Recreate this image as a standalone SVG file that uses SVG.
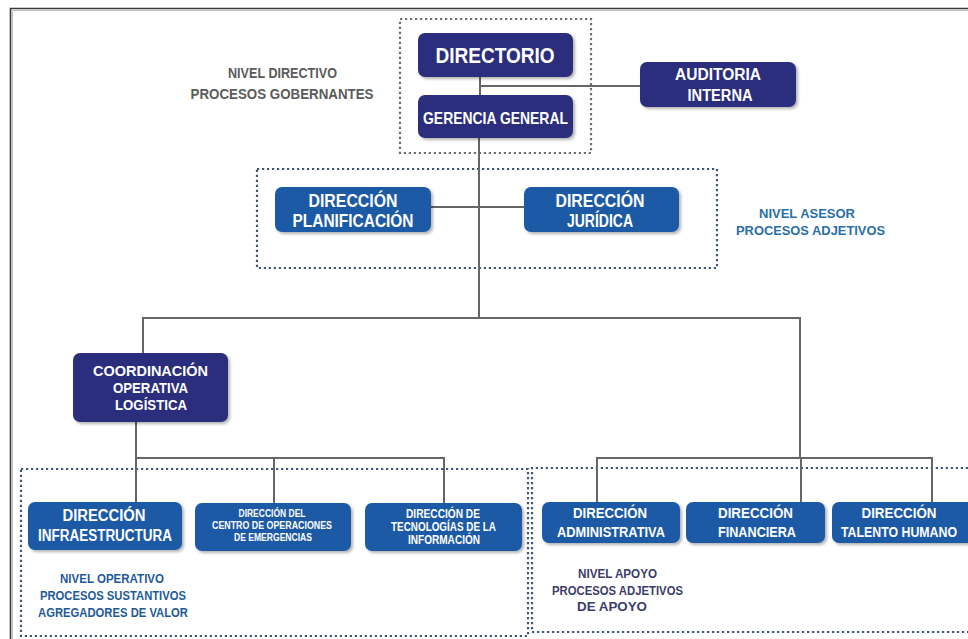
<svg xmlns="http://www.w3.org/2000/svg" width="968" height="639" viewBox="0 0 968 639">
<defs>
<filter id="sh" x="-10%" y="-10%" width="130%" height="140%">
<feDropShadow dx="2" dy="2" stdDeviation="1.6" flood-color="#000" flood-opacity="0.3"/>
</filter>
</defs>
<style>
.navy{fill:#2c2f7c;filter:url(#sh)}
.blue{fill:#1a5aa6;filter:url(#sh)}
.t{font-family:"Liberation Sans",Arial,sans-serif;font-weight:bold;fill:#fff;text-anchor:middle}
.lbl{font-family:"Liberation Sans",Arial,sans-serif;font-weight:bold;text-anchor:middle}
.dot{fill:none;stroke:#3f5679;stroke-width:2.2;stroke-dasharray:2.2 2.8}
.dotg{fill:none;stroke:#6e6e6e;stroke-width:2.2;stroke-dasharray:2.2 2.8}
.ln{fill:none;stroke:#666;stroke-width:2}
</style>
<rect width="968" height="639" fill="#fff"/>
<path d="M10.5 639 V8.5 H968" fill="none" stroke="#3a3a3a" stroke-width="1.6"/>
<path d="M12.5 639 V10.5 H968" fill="none" stroke="#bdbdbd" stroke-width="1"/>

<g id="regions">
<rect class="dotg" x="400" y="19" width="191" height="134"/>
<rect class="dot" x="257" y="169" width="460" height="99"/>
<rect class="dot" x="21" y="469" width="507" height="167"/>
<path class="dot" d="M968 468 H532 V632 H968"/>
</g>

<g id="connectors">
<path class="ln" d="M480 77 V95"/>
<path class="ln" d="M480 86 H640"/>
<path class="ln" d="M479 138 V318"/>
<path class="ln" d="M431 207 H524"/>
<path class="ln" d="M143 353 V318 H800 V458"/>
<path class="ln" d="M136 422 V502"/>
<path class="ln" d="M136 458 H444 V503"/>
<path class="ln" d="M274 458 V503"/>
<path class="ln" d="M597 502 V458 H932 V502"/>
<path class="ln" d="M801 458 V502"/>
</g>

<g id="directorio">
<rect class="navy" x="418" y="33" width="155" height="44" rx="7"/>
<text class="t" x="495" y="63" font-size="22" textLength="119" lengthAdjust="spacingAndGlyphs">DIRECTORIO</text>
</g>
<g id="gerencia">
<rect class="navy" x="418" y="95" width="155" height="43" rx="7"/>
<text class="t" x="495.5" y="124" font-size="17" textLength="145" lengthAdjust="spacingAndGlyphs">GERENCIA GENERAL</text>
</g>
<g id="auditoria">
<rect class="navy" x="640" y="62" width="156" height="45" rx="7"/>
<text class="t" x="718" y="80" font-size="16" textLength="86" lengthAdjust="spacingAndGlyphs">AUDITORIA</text>
<text class="t" x="720" y="101" font-size="16" textLength="65" lengthAdjust="spacingAndGlyphs">INTERNA</text>
</g>
<g id="planificacion">
<rect class="blue" x="275" y="187" width="156" height="45" rx="7"/>
<text class="t" x="353" y="207" font-size="18" textLength="89" lengthAdjust="spacingAndGlyphs">DIRECCIÓN</text>
<text class="t" x="353" y="227" font-size="18" textLength="121" lengthAdjust="spacingAndGlyphs">PLANIFICACIÓN</text>
</g>
<g id="juridica">
<rect class="blue" x="524" y="187" width="155" height="45" rx="7"/>
<text class="t" x="600" y="207" font-size="18" textLength="89" lengthAdjust="spacingAndGlyphs">DIRECCIÓN</text>
<text class="t" x="600" y="227" font-size="18" textLength="66" lengthAdjust="spacingAndGlyphs">JURÍDICA</text>
</g>
<g id="coordinacion">
<rect class="navy" x="73" y="353" width="155" height="69" rx="7"/>
<text class="t" x="150.5" y="376" font-size="15" textLength="115" lengthAdjust="spacingAndGlyphs">COORDINACIÓN</text>
<text class="t" x="150.5" y="393" font-size="15" textLength="75" lengthAdjust="spacingAndGlyphs">OPERATIVA</text>
<text class="t" x="151" y="410" font-size="15" textLength="72" lengthAdjust="spacingAndGlyphs">LOGÍSTICA</text>
</g>
<g id="infraestructura">
<rect class="blue" x="28" y="502" width="154" height="48" rx="7"/>
<text class="t" x="104" y="521" font-size="16" textLength="83" lengthAdjust="spacingAndGlyphs">DIRECCIÓN</text>
<text class="t" x="105" y="541" font-size="16" textLength="134" lengthAdjust="spacingAndGlyphs">INFRAESTRUCTURA</text>
</g>
<g id="centro">
<rect class="blue" x="195" y="503" width="156" height="48" rx="7"/>
<text class="t" x="272" y="517" font-size="10" textLength="67" lengthAdjust="spacingAndGlyphs">DIRECCIÓN DEL</text>
<text class="t" x="272" y="529" font-size="10" textLength="120" lengthAdjust="spacingAndGlyphs">CENTRO DE OPERACIONES</text>
<text class="t" x="273" y="541" font-size="10" textLength="78" lengthAdjust="spacingAndGlyphs">DE EMERGENCIAS</text>
</g>
<g id="tecnologias">
<rect class="blue" x="365" y="503" width="157" height="48" rx="7"/>
<text class="t" x="443" y="518" font-size="12" textLength="74" lengthAdjust="spacingAndGlyphs">DIRECCIÓN DE</text>
<text class="t" x="443.5" y="531" font-size="12" textLength="105" lengthAdjust="spacingAndGlyphs">TECNOLOGÍAS DE LA</text>
<text class="t" x="444" y="544" font-size="12" textLength="72" lengthAdjust="spacingAndGlyphs">INFORMACIÓN</text>
</g>
<g id="administrativa">
<rect class="blue" x="542" y="502" width="138" height="41" rx="7"/>
<text class="t" x="610" y="518" font-size="14" textLength="74" lengthAdjust="spacingAndGlyphs">DIRECCIÓN</text>
<text class="t" x="611" y="537" font-size="14" textLength="108" lengthAdjust="spacingAndGlyphs">ADMINISTRATIVA</text>
</g>
<g id="financiera">
<rect class="blue" x="686" y="502" width="139" height="41" rx="7"/>
<text class="t" x="755.5" y="518" font-size="14" textLength="75" lengthAdjust="spacingAndGlyphs">DIRECCIÓN</text>
<text class="t" x="757" y="537" font-size="14" textLength="78" lengthAdjust="spacingAndGlyphs">FINANCIERA</text>
</g>
<g id="talento">
<path class="blue" d="M839 502 H968 V543 H839 A7 7 0 0 1 832 536 V509 A7 7 0 0 1 839 502 Z"/>
<text class="t" x="899" y="518" font-size="14" textLength="75" lengthAdjust="spacingAndGlyphs">DIRECCIÓN</text>
<text class="t" x="899" y="537" font-size="14" textLength="116" lengthAdjust="spacingAndGlyphs">TALENTO HUMANO</text>
</g>

<g id="labels">
<text class="lbl" x="282.5" y="78" font-size="14.5" fill="#5b5b5b" textLength="109" lengthAdjust="spacingAndGlyphs">NIVEL DIRECTIVO</text>
<text class="lbl" x="282" y="99" font-size="14.5" fill="#5b5b5b" textLength="183" lengthAdjust="spacingAndGlyphs">PROCESOS GOBERNANTES</text>
<text class="lbl" x="807" y="218" font-size="13" fill="#2a6fa8" textLength="96" lengthAdjust="spacingAndGlyphs">NIVEL ASESOR</text>
<text class="lbl" x="810.5" y="235" font-size="13" fill="#2a6fa8" textLength="149" lengthAdjust="spacingAndGlyphs">PROCESOS ADJETIVOS</text>
<text class="lbl" x="112" y="583" font-size="13.5" fill="#1e5a99" textLength="104" lengthAdjust="spacingAndGlyphs">NIVEL OPERATIVO</text>
<text class="lbl" x="113" y="600" font-size="13.5" fill="#1e5a99" textLength="146" lengthAdjust="spacingAndGlyphs">PROCESOS SUSTANTIVOS</text>
<text class="lbl" x="113" y="617" font-size="13.5" fill="#1e5a99" textLength="150" lengthAdjust="spacingAndGlyphs">AGREGADORES DE VALOR</text>
<text class="lbl" x="617.5" y="578" font-size="13" fill="#3b3d6b" textLength="79" lengthAdjust="spacingAndGlyphs">NIVEL APOYO</text>
<text class="lbl" x="617.5" y="595" font-size="13" fill="#3b3d6b" textLength="131" lengthAdjust="spacingAndGlyphs">PROCESOS ADJETIVOS</text>
<text class="lbl" x="612" y="611" font-size="13" fill="#3b3d6b" textLength="70" lengthAdjust="spacingAndGlyphs">DE APOYO</text>
</g>
</svg>
